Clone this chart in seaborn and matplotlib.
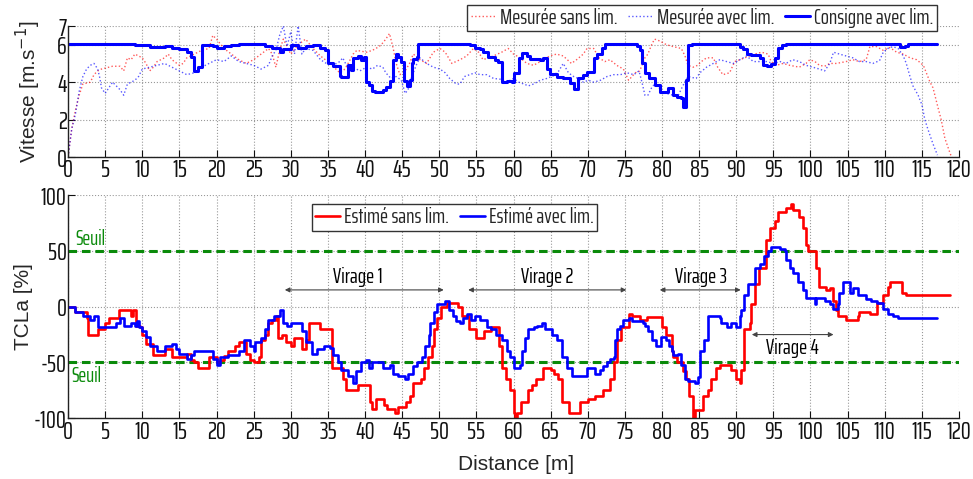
import matplotlib
matplotlib.use('Agg')
import matplotlib.pyplot as plt
import seaborn as sns

# ---- top plot: speed [m/s] vs distance [m]
cons_x = [0, 9, 11, 13, 14, 15, 16, 16.5, 17, 17.5, 18, 19.5, 20, 21, 22, 23, 26.5, 27.5, 28.5, 29,
          30, 31, 32, 33, 34, 34.6, 35, 35.7, 36.6, 36.8, 37.7, 38.1, 38.4, 39, 39.5, 39.9, 40.2, 40.6,
          41, 41.3, 42.4, 42.8, 43.3, 43.8, 44.2, 44.4, 44.9, 45.3, 45.6, 46, 46.3, 46.5, 47, 47.2,
          54.2, 54.8, 55.5, 55.9, 56.6, 57.5, 57.9, 58.4, 59.1, 59.8, 60, 60.7, 61.1, 61.8, 62.2, 63.6,
          64, 64.5, 64.9, 65.8, 66.7, 67.6, 68.1, 68.7, 69.4, 69.9, 70.8, 71.2, 71.9, 72.3, 76.6, 77,
          77.3, 77.7, 78.3, 79, 79.7, 80.8, 81.5, 82, 82.5, 82.8, 83.3, 83.5, 84, 90.5, 90.9, 91.4, 92,
          93.2, 93.6, 94.1, 94.7, 95.2, 95.6, 96.1, 96.7, 112, 112.7, 113.1, 117.1]
cons_y = [6.05, 5.98, 5.9, 5.95, 5.8, 5.75, 5.6, 5.35, 4.6, 4.8, 6.0, 5.95, 5.85, 5.95, 6.0, 6.05, 5.95,
          5.85, 5.6, 5.75, 6.0, 5.85, 5.95, 6.0, 5.85, 5.7, 5.0, 4.85, 4.35, 4.25, 4.9, 4.65, 5.3, 5.4,
          5.2, 5.35, 4.0, 3.85, 3.55, 3.45, 3.6, 3.75, 4.05, 5.2, 5.5, 5.35, 5.1, 4.05, 3.8, 4.1, 5.0,
          5.25, 5.35, 6.05, 6.0, 5.85, 5.75, 5.6, 5.35, 5.2, 5.1, 4.0, 4.05, 4.0, 4.5, 5.3, 5.55, 5.4,
          5.25, 5.2, 5.3, 4.7, 4.45, 4.3, 4.2, 3.95, 3.65, 4.2, 4.4, 4.55, 5.3, 5.5, 5.85, 6.05, 5.95,
          5.7, 5.0, 4.5, 4.2, 3.85, 3.5, 3.7, 3.3, 3.2, 3.15, 2.65, 4.1, 6.0, 6.05, 5.9, 5.75, 5.5,
          5.45, 5.3, 4.9, 4.85, 4.95, 5.3, 5.8, 6.0, 6.05, 5.9, 5.95, 6.05, 6.05]

sans_x = [0, 0.5, 1, 1.5, 2, 3, 3.5, 4, 4.5, 5, 6, 7, 7.5, 8, 8.5, 9, 10, 10.5, 11, 11.5, 12, 13, 13.5,
          14, 15, 15.5, 16, 17, 18, 19, 19.5, 20, 21, 22, 23, 24, 25, 26, 27, 27.5, 28, 28.5, 29, 30,
          31, 32, 33, 34, 35.3, 36.6, 37.3, 38, 38.4, 38.9, 40.2, 41, 41.9, 42.4, 42.8, 43.3, 43.8,
          44.2, 44.7, 45.4, 46, 46.5, 47.4, 48.3, 49.2, 50.1, 50.8, 51.7, 52.8, 53.7, 54.6, 55.3, 55.9,
          57.3, 58.4, 59.3, 60, 60.9, 61.8, 62.7, 63.6, 64.9, 65.8, 66.7, 67.8, 68.5, 69.4, 69.9, 70.8,
          71.5, 72.3, 73, 73.9, 74.8, 75.5, 76.4, 77, 77.7, 78.1, 78.6, 79, 79.7, 80.6, 81.5, 82.6,
          83.1, 83.5, 84.2, 84.8, 85.3, 86, 86.9, 87.5, 88.2, 89.1, 89.8, 90.5, 91.8, 92.5, 93.4, 94.3,
          94.7, 95.4, 96.3, 97.2, 98.5, 99.4, 99.9, 100.6, 101.2, 101.9, 102.6, 103.5, 104.8, 105.7,
          106.6, 107.5, 108, 108.9, 109.8, 110.7, 111.6, 112.5, 113.4, 114.3, 115.2, 116.1, 116.5,
          117.2, 117.6, 118.1, 118.8, 119]
sans_y = [0, 1.5, 2.5, 3.3, 3.9, 4.0, 4.4, 4.6, 4.7, 4.75, 4.85, 4.85, 4.6, 5.3, 5.2, 5.5, 5.3, 5.0,
          4.6, 4.8, 5.1, 5.3, 5.5, 5.2, 4.9, 5.0, 5.3, 5.5, 5.7, 5.8, 6.5, 6.3, 5.8, 5.5, 5.2, 5.0,
          5.2, 5.5, 5.8, 5.5, 4.8, 5.7, 6.3, 5.5, 6.0, 6.3, 5.8, 5.4, 5.0, 4.5, 4.7, 5.2, 5.5, 5.7,
          5.6, 5.7, 5.9, 6.1, 6.3, 6.6, 5.8, 5.0, 4.4, 4.6, 5.0, 5.5, 5.2, 5.0, 5.6, 5.8, 5.6, 5.0,
          5.2, 5.4, 5.8, 5.6, 5.2, 5.4, 5.6, 5.8, 5.5, 5.3, 5.0, 4.9, 5.1, 5.4, 5.5, 5.4, 5.0, 5.2,
          5.5, 5.8, 5.8, 5.3, 5.1, 5.2, 4.9, 4.7, 4.1, 4.5, 4.6, 5.3, 5.5, 6.0, 6.3, 6.2, 6.0, 5.9,
          5.8, 5.4, 4.9, 4.8, 4.9, 5.1, 5.3, 5.3, 4.8, 4.4, 4.5, 5.1, 5.2, 5.4, 5.5, 5.6, 5.5, 5.1,
          4.9, 5.0, 4.9, 4.8, 5.0, 5.2, 5.1, 4.9, 4.85, 5.0, 5.0, 5.1, 5.2, 5.1, 5.2, 5.9, 5.9, 5.7,
          5.85, 5.6, 5.5, 5.3, 5.2, 4.9, 4.0, 3.7, 2.6, 2.0, 1.0, 0.2, 0]

avec_x = [0, 0.5, 1, 1.5, 2, 2.5, 3, 3.5, 4, 4.3, 4.5, 5, 5.5, 6, 6.5, 7, 7.5, 8, 9, 9.5, 10, 11, 12,
          13, 14, 15, 16, 17, 18, 19, 20, 21, 22, 23, 24, 25, 26, 27, 27.5, 28, 28.5, 29, 29.5, 30,
          30.5, 31, 31.5, 32, 33, 34, 34.8, 35.7, 36.6, 37, 37.5, 38.4, 39.3, 40.2, 41, 41.7, 42.4,
          42.8, 43.5, 44.2, 44.9, 45.4, 45.8, 46.3, 47, 47.4, 48.3, 49.2, 50.1, 50.8, 51.4, 52.3,
          52.8, 53.4, 54.1, 54.8, 55.5, 56.4, 57.3, 58.4, 59.1, 60, 60.7, 61.4, 62, 62.7, 63.6, 64.5,
          65.4, 66.1, 66.7, 67.4, 68.1, 68.7, 69.4, 70.1, 70.8, 71.7, 72.6, 73.5, 74.4, 75.3, 76.2,
          76.9, 77.3, 77.7, 78.1, 78.6, 79.2, 79.9, 80.6, 81.5, 82.2, 82.8, 83.5, 84.6, 85.1, 86,
          86.9, 87.8, 88.7, 89.6, 90.5, 91.4, 92.3, 94.1, 95, 95.9, 96.7, 97.6, 98.5, 99.4, 100.3,
          101.2, 101.9, 102.6, 103.1, 103.9, 104.8, 105.7, 106.6, 107.5, 108.4, 109.3, 109.8, 110.4,
          111.1, 111.8, 112.5, 112.9, 113.4, 113.8, 114.5, 115, 115.4, 115.8, 116.5, 117.1]
avec_y = [0, 1.5, 2.3, 3.5, 4.3, 4.7, 4.9, 5.0, 4.7, 4.2, 3.7, 3.4, 3.7, 4.0, 3.8, 3.6, 3.3, 3.9, 4.1,
          4.3, 4.7, 4.8, 4.9, 5.0, 4.8, 4.6, 4.4, 4.5, 4.8, 5.0, 5.2, 5.1, 5.4, 5.1, 5.0, 4.9, 4.7,
          4.9, 5.4, 5.7, 6.5, 7.0, 5.9, 6.7, 5.5, 7.0, 5.5, 5.8, 5.7, 5.2, 5.0, 4.9, 5.1, 5.3, 4.9,
          4.8, 4.6, 4.8, 4.7, 4.9, 4.8, 4.5, 4.2, 4.3, 4.1, 3.4, 3.6, 4.3, 5.0, 5.3, 5.0, 4.8, 4.7,
          4.5, 4.2, 3.9, 3.9, 4.3, 4.4, 4.5, 4.4, 4.4, 4.2, 4.15, 4.0, 4.2, 4.0, 3.9, 3.8, 3.9, 4.1,
          4.2, 4.35, 4.6, 5.0, 4.5, 4.3, 4.2, 4.0, 4.1, 4.0, 4.1, 4.3, 4.4, 4.4, 4.5, 4.4, 4.6, 4.0,
          3.3, 3.3, 3.7, 4.0, 3.5, 3.4, 3.3, 3.3, 3.8, 4.3, 4.2, 4.5, 4.8, 5.0, 5.2, 5.1, 5.0, 5.2,
          5.4, 5.1, 5.1, 5.0, 5.1, 5.0, 5.2, 5.1, 4.9, 4.8, 4.7, 4.6, 5.0, 5.6, 5.5, 5.4, 5.3, 5.1,
          5.1, 5.0, 5.15, 5.6, 5.8, 5.9, 5.8, 5.4, 5.0, 4.3, 3.8, 3.3, 2.8, 2.0, 1.5, 0.7, 0.1]

# ---- bottom plot: TCLa [%] vs distance [m]
est_sans_x = [0, 1, 2.5, 2.7, 4, 5, 5.5, 6.8, 8.5, 8.8, 9.1, 9.7, 10, 10.5, 11.5, 13, 14, 16, 16.5, 17,
              17.5, 19, 20, 20.5, 21, 21.5, 22.5, 23, 24, 24.5, 25, 25.7, 26, 26.5, 27, 27.5, 28, 28.3,
              28.8, 29.3, 30, 30.5, 31.5, 32, 32.5, 34, 35.6, 37, 37.5, 39, 40.7, 41, 41.5, 42.5, 43,
              44, 44.5, 45.5, 46, 46.5, 47.5, 48, 48.5, 49, 49.3, 49.7, 50.3, 51, 52.5, 53, 54, 55,
              56, 57, 58, 58.5, 59, 59.5, 60, 60.2, 60.5, 61, 62, 62.5, 63, 64, 65, 65.5, 66, 66.5,
              67.5, 69, 70, 71, 72, 73, 73.5, 74, 74.5, 75.5, 76, 77, 78, 80, 80.6, 81.3, 81.5, 82,
              82.8, 83.3, 83.7, 84.2, 84.4, 85.5, 86.2, 86.6, 87.3, 87.8, 89.3, 90, 90.5, 90.7, 91.1,
              91.8, 92, 92.5, 93, 94, 94.5, 95.2, 95.6, 96.7, 97.4, 97.6, 98.5, 99, 99.4, 99.7, 100.8,
              101.2, 102.1, 102.6, 103, 103.5, 103.7, 104.8, 106.4, 106.6, 108, 109, 109.8, 110.4,
              110.7, 112.3, 112.9, 118.8]
est_sans_y = [0, -5, -10, -25, -20, -15, -10, -3, -8, -3, -17, -18, -25, -33, -43, -38, -45, -42, -48,
              -50, -55, -45, -50, -48, -44, -40, -35, -32, -42, -48, -50, -45, -30, -25, -15, -12, -8,
              -28, -25, -32, -35, -28, -38, -30, -15, -20, -55, -65, -75, -70, -85, -92, -83, -88, -92,
              -95, -90, -85, -80, -68, -65, -55, -45, -35, -20, -10, 0, 3, 0, -8, -20, -28, -22, -18,
              -35, -55, -65, -75, -95, -100, -95, -85, -75, -70, -65, -55, -57, -60, -65, -85, -95,
              -85, -83, -80, -75, -65, -50, -30, -18, -7, -8, -12, -9, -18, -25, -40, -45, -50, -58,
              -65, -80, -100, -93, -80, -75, -65, -55, -52, -57, -65, -68, -57, -20, -15, 2, 20, 35,
              60, 70, 77, 85, 88, 92, 87, 80, 70, 55, 50, 35, 18, 15, 17, 5, -3, -8, -12, -8, -5, -7,
              3, 10, 18, 22, 12, 10, 10]

est_avec_x = [0, 1, 2, 3, 3.5, 4, 6.5, 7, 7.5, 8.5, 9, 9.3, 9.5, 10, 10.5, 11, 12, 13, 14, 14.5, 15,
              16, 16.5, 17, 19.5, 20, 20.5, 21.5, 23, 23.7, 24.5, 25, 25.2, 26, 26.5, 27, 27.8, 28.5,
              29, 29.5, 30, 31.5, 32, 32.8, 33.5, 34.5, 35.3, 35.7, 36.4, 36.8, 37.7, 38.4, 38.8, 39.5,
              40.2, 40.6, 41, 42.4, 43.3, 43.8, 44.5, 45.4, 45.8, 46.5, 47, 47.7, 48.1, 48.6, 48.8,
              49.3, 49.7, 50.8, 51.3, 51.9, 52.3, 52.8, 53.2, 53.7, 54.3, 54.8, 55.5, 56.4, 57, 57.7,
              58.4, 59.1, 59.5, 60, 60.9, 61.1, 61.6, 62, 62.7, 63.2, 63.8, 64.3, 65.2, 65.9, 66.5,
              67.2, 67.9, 69.9, 71, 71.7, 72.1, 72.6, 73, 73.5, 73.7, 73.9, 74.4, 74.8, 75.5, 75.9,
              77.5, 77.7, 78.1, 78.6, 79.2, 79.9, 80.6, 81, 81.3, 81.5, 82.2, 82.6, 83.1, 83.5, 84.4,
              84.8, 85.1, 85.7, 86.2, 87.8, 88, 88.7, 89.3, 90, 90.5, 90.7, 91.1, 91.6, 92.5, 93.2,
              93.8, 94.3, 94.7, 95.9, 96.5, 96.7, 97.2, 97.6, 98.3, 99, 99.4, 100.6, 100.7, 101.9,
              102.6, 103, 103.7, 103.9, 104.4, 105.3, 105.7, 106.4, 107.5, 108.2, 108.9, 109.8, 110.4,
              111.1, 111.8, 117.1]
est_avec_y = [0, -5, -8, -12, -8, -18, -15, -10, -17, -15, -17, -13, -18, -22, -27, -35, -40, -35, -33,
              -38, -42, -47, -43, -40, -47, -52, -45, -43, -40, -30, -35, -40, -32, -28, -20, -12, -8,
              -3, -15, -17, -15, -22, -32, -42, -38, -35, -37, -43, -50, -57, -62, -68, -58, -50, -48,
              -55, -50, -55, -52, -60, -62, -65, -60, -53, -50, -45, -35, -25, -15, -5, 2, 5, -3, -8,
              -13, -15, -10, -7, -12, -8, -12, -18, -20, -25, -30, -40, -45, -55, -52, -40, -28, -20,
              -18, -17, -15, -20, -25, -30, -45, -55, -62, -55, -60, -57, -53, -50, -47, -45, -30, -20,
              -17, -12, -10, -13, -15, -17, -22, -30, -35, -27, -30, -35, -40, -43, -42, -52, -65, -67,
              -68, -63, -40, -30, -8, -10, -15, -18, -15, -18, -8, -3, 10, 20, 35, 38, 45, 50, 53, 52,
              50, 42, 35, 30, 22, 15, 8, 2, 8, 5, 2, -2, 2, 12, 22, 12, 17, 10, 7, 5, 3, -2, -7, -8,
              -10, -10]

dist_ticks = list(range(0, 121, 5))
speed_ticks = [0, 2, 4, 6, 7]
tcla_ticks = [-100, -50, 0, 50, 100]
seuil = 50
virages = [('Virage 1', 29.2, 50.6, 15, 39.0, 27),
           ('Virage 2', 53.9, 75.2, 15, 64.5, 27),
           ('Virage 3', 79.7, 90.6, 15, 85.3, 27),
           ('Virage 4', 92.1, 103.1, -25, 97.6, -37)]

sns.set_style('ticks')
# condensed face close to the original's tick/legend font
narrow = ['Saira ExtraCondensed', 'Pathway Gothic One', 'DejaVu Sans']
plt.rcParams['font.family'] = narrow
plt.rcParams['axes.unicode_minus'] = False

fig = plt.figure(figsize=(9.73, 4.79), dpi=100)
ax1 = fig.add_axes([0.0699, 0.6722, 0.9157, 0.2735])
ax2 = fig.add_axes([0.0699, 0.1267, 0.9157, 0.4662])

red = '#ff0000'
blue = '#0000ff'
green = '#0a8a0a'

# top
sns.lineplot(x=sans_x, y=sans_y, ax=ax1, color=red, lw=1.0, linestyle=':', alpha=0.65,
             label='Mesurée sans lim.')
sns.lineplot(x=avec_x, y=avec_y, ax=ax1, color=blue, lw=1.0, linestyle=':', alpha=0.65,
             label='Mesurée avec lim.')
sns.lineplot(x=cons_x, y=cons_y, ax=ax1, color=blue, lw=2.2, drawstyle='steps-post',
             label='Consigne avec lim.')

# bottom
sns.lineplot(x=est_sans_x, y=est_sans_y, ax=ax2, color=red, lw=1.9, drawstyle='steps-post',
             label='Estimé sans lim.')
sns.lineplot(x=est_avec_x, y=est_avec_y, ax=ax2, color=blue, lw=1.9, drawstyle='steps-post',
             label='Estimé avec lim.')
for s in (seuil, -seuil):
    ax2.axhline(s, color=green, lw=2.2, ls=(0, (2.8, 1.6)), zorder=1)
ax2.text(1.0, 52, 'Seuil', color=green, fontsize=15, ha='left', va='bottom')
ax2.text(0.4, -53, 'Seuil', color=green, fontsize=15, ha='left', va='top')

for name, x0, x1, ya, xt, yt in virages:
    ax2.annotate('', xy=(x1, ya), xytext=(x0, ya),
                 arrowprops=dict(arrowstyle='<|-|>', color='#444444', lw=0.8,
                                 mutation_scale=7, shrinkA=0, shrinkB=0))
    ax2.text(xt, yt, name, fontsize=15.5, ha='center', va='center', color='black')

for ax in (ax1, ax2):
    ax.set_xlim(0, 120)
    ax.set_xticks(dist_ticks)
    ax.grid(True, linestyle=':', color='#999999', linewidth=0.8)
    ax.set_axisbelow(True)
    for sp in ('top', 'right'):
        ax.spines[sp].set_visible(False)
    for sp in ('left', 'bottom'):
        ax.spines[sp].set_color('#222222')
        ax.spines[sp].set_linewidth(1.0)
    ax.tick_params(direction='in', length=5, width=0.8, labelsize=18, pad=1, colors='#111111')

ax1.set_ylim(0, 7)
ax1.set_yticks(speed_ticks)
ax2.set_ylim(-100, 100)
ax2.set_yticks(tcla_ticks)

ax1.set_xlabel('')
ax1.set_ylabel('Vitesse [m.s$^{-1}$]', family='Liberation Sans', fontsize=15)
ax1.yaxis.set_label_coords(-0.028, 0.5)
ax2.set_ylabel('TCLa [%]', family='Liberation Sans', fontsize=15)
ax2.yaxis.set_label_coords(-0.039, 0.5)
ax2.set_xlabel('Distance [m]', family='Liberation Sans', fontsize=15)
ax2.xaxis.set_label_coords(0.503, -0.164)

leg_kw = dict(fontsize=15.5, frameon=True, fancybox=False, edgecolor='#333333', framealpha=1,
              borderaxespad=0, handlelength=1.15, handletextpad=0.2, columnspacing=0.5,
              borderpad=0.15, bbox_transform=fig.transFigure)
ax1.legend(loc='upper right', bbox_to_anchor=(0.963, 0.99), ncol=3, **leg_kw)
ax2.legend(loc='upper left', bbox_to_anchor=(0.3207, 0.574), ncol=2, **leg_kw)

fig.savefig('out.png', dpi=100)
